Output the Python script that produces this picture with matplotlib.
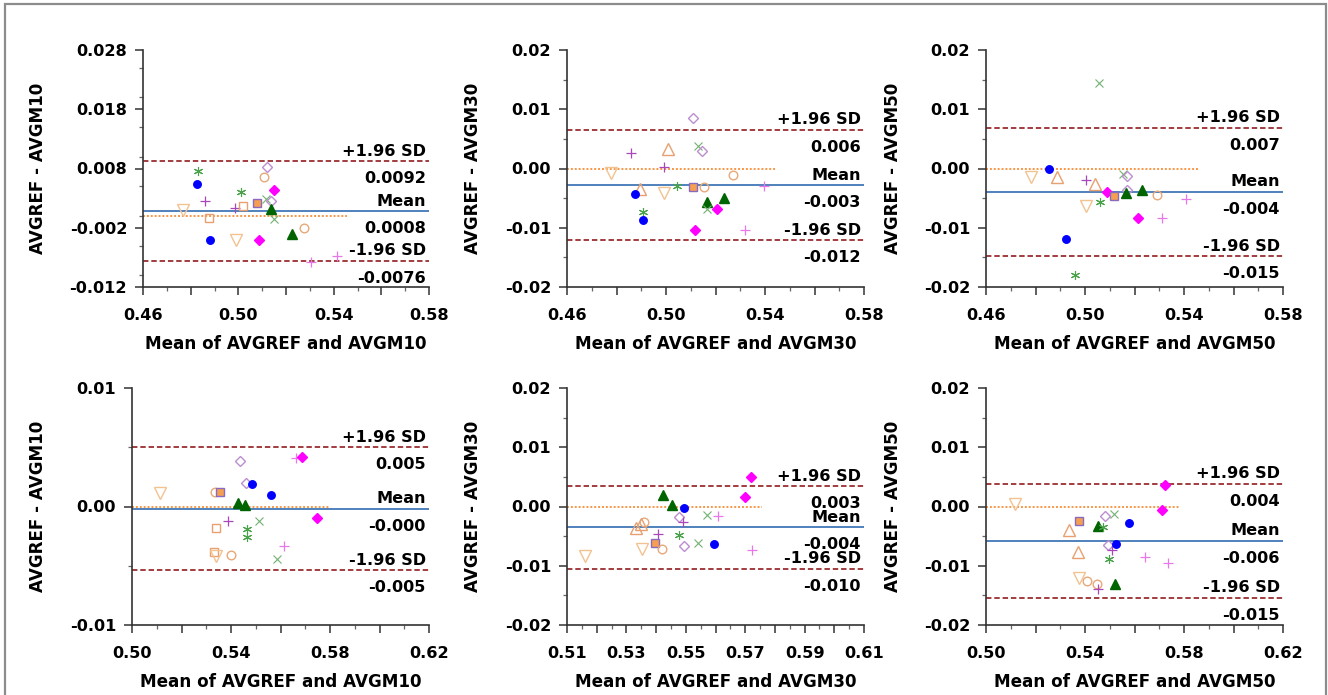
import matplotlib
matplotlib.use("Agg")
import matplotlib.pyplot as plt
from matplotlib.patches import Rectangle
from matplotlib.ticker import MultipleLocator, FixedLocator

plt.rcParams['font.family'] = ['DejaVu Sans']
plt.rcParams['font.weight'] = 'bold'

# ---------------- data ----------------
p1_x = [0.4831, 0.4825, 0.4860, 0.4767, 0.4877, 0.4880, 0.4985, 0.5020, 0.5012, 0.4992, 0.5079, 0.5086,
        0.5114, 0.5150, 0.5107, 0.5121, 0.5139, 0.5150, 0.5135, 0.5226, 0.5275, 0.5305, 0.5415]
p1_y = [0.0076, 0.0054, 0.0025, 0.0010, -0.0003, -0.0041, 0.0014, 0.0016, 0.0040, -0.0040, 0.0022, -0.0041,
        0.0028, -0.0005, 0.0066, 0.0082, 0.0025, 0.0043, 0.0012, -0.0031, -0.0021, -0.0078, -0.0067]
p1_k = ['ast', 'bo', 'pp', 'vt', 'sq', 'bo', 'pp', 'sq', 'ast', 'vt', 'fs', 'md',
        'gx', 'gx', 'oc', 'dm', 'dm', 'md', 'gt', 'gt', 'oc', 'pk', 'pk']

p2_x = [0.4859, 0.4777, 0.4896, 0.4874, 0.4906, 0.4906, 0.5010, 0.4992, 0.4992, 0.5046, 0.5108, 0.5117,
        0.5108, 0.5128, 0.5147, 0.5155, 0.5167, 0.5164, 0.5205, 0.5234, 0.5272, 0.5320, 0.5397]
p2_y = [0.0027, -0.0007, -0.0034, -0.0043, -0.0073, -0.0087, 0.0033, 0.0002, -0.0041, -0.0029, -0.0031, -0.0103,
        0.0086, 0.0038, 0.0030, -0.0032, -0.0056, -0.0069, -0.0069, -0.0049, -0.0011, -0.0103, -0.0030]
p2_k = ['pp', 'vt', 'ut', 'bo', 'ast', 'bo', 'ut', 'pp', 'vt', 'ast', 'fs', 'md',
        'dm', 'gx', 'dm', 'oc', 'gt', 'gx', 'md', 'gt', 'oc', 'pk', 'pk']

p3_x = [0.5056, 0.4854, 0.4782, 0.4885, 0.5004, 0.5040, 0.5154, 0.5169, 0.5169, 0.5087, 0.5117,
        0.5164, 0.5231, 0.5289, 0.5410, 0.5004, 0.5060, 0.5215, 0.5312, 0.4923, 0.4959]
p3_y = [0.0144, 0.0000, -0.0014, -0.0015, -0.0020, -0.0027, -0.0010, -0.0013, -0.0037, -0.0039, -0.0046,
        -0.0042, -0.0037, -0.0045, -0.0052, -0.0064, -0.0057, -0.0083, -0.0084, -0.0119, -0.0179]
p3_k = ['gx', 'bo', 'vt', 'ut', 'pp', 'ut', 'gx', 'dm', 'dm', 'md', 'fs',
        'gt', 'gt', 'oc', 'pk', 'vt', 'ast', 'md', 'pk', 'bo', 'ast']

p4_x = [0.5113, 0.5336, 0.5356, 0.5437, 0.5460, 0.5484, 0.5561, 0.5428, 0.5455, 0.5663, 0.5686,
        0.5747, 0.5387, 0.5515, 0.5340, 0.5464, 0.5464, 0.5330, 0.5340, 0.5402, 0.5616, 0.5585]
p4_y = [0.0011, 0.0012, 0.0012, 0.0038, 0.0020, 0.0019, 0.0010, 0.0003, 0.0001, 0.0041, 0.0042,
        -0.0010, -0.0012, -0.0012, -0.0018, -0.0019, -0.0026, -0.0038, -0.0042, -0.0041, -0.0033, -0.0044]
p4_k = ['vt', 'oc', 'fs', 'dm', 'dm', 'bo', 'bo', 'gt', 'gt', 'pk', 'md',
        'md', 'pp', 'gx', 'sq', 'ast', 'ast', 'sq', 'vt', 'oc', 'pk', 'gx']

p5_x = [0.5718, 0.5701, 0.5424, 0.5455, 0.5495, 0.5478, 0.5490, 0.5570, 0.5610, 0.5360, 0.5350,
        0.5333, 0.5405, 0.5476, 0.5395, 0.5352, 0.5419, 0.5494, 0.5542, 0.5596, 0.5724, 0.5162]
p5_y = [0.0049, 0.0016, 0.0019, 0.0002, -0.0002, -0.0017, -0.0027, -0.0015, -0.0016, -0.0027, -0.0029,
        -0.0037, -0.0046, -0.0048, -0.0061, -0.0071, -0.0072, -0.0067, -0.0062, -0.0064, -0.0074, -0.0084]
p5_k = ['md', 'md', 'gt', 'gt', 'bo', 'dm', 'pp', 'gx', 'pk', 'oc', 'ut',
        'ut', 'pp', 'ast', 'fs', 'vt', 'oc', 'dm', 'gx', 'bo', 'pk', 'vt']

p6_x = [0.5117, 0.5375, 0.5334, 0.5451, 0.5471, 0.5480, 0.5518, 0.5578, 0.5725, 0.5712, 0.5373,
        0.5491, 0.5510, 0.5525, 0.5495, 0.5644, 0.5736, 0.5377, 0.5409, 0.5448, 0.5453, 0.5523]
p6_y = [0.0005, -0.0024, -0.0039, -0.0033, -0.0034, -0.0016, -0.0013, -0.0028, 0.0037, -0.0006, -0.0076,
        -0.0065, -0.0074, -0.0063, -0.0089, -0.0085, -0.0095, -0.0120, -0.0125, -0.0130, -0.0140, -0.0131]
p6_k = ['vt', 'fs', 'ut', 'gt', 'ast', 'dm', 'gx', 'bo', 'md', 'md', 'ut',
        'dm', 'pp', 'bo', 'ast', 'pk', 'pk', 'vt', 'oc', 'oc', 'pp', 'gt']

# Bland-Altman statistics (mean, +1.96 SD, -1.96 SD) and their printed labels
mean_vals = [0.0008, -0.0028, -0.0039, -0.0002, -0.0035, -0.0058]
upper_vals = [0.0092, 0.0065, 0.0069, 0.0050, 0.0034, 0.0038]
lower_vals = [-0.0076, -0.0121, -0.0148, -0.0054, -0.0105, -0.0154]
mean_txt = ['0.0008', '-0.003', '-0.004', '-0.000', '-0.004', '-0.006']
upper_txt = ['0.0092', '0.006', '0.007', '0.005', '0.003', '0.004']
lower_txt = ['-0.0076', '-0.012', '-0.015', '-0.005', '-0.010', '-0.015']

ylabels = ['AVGREF - AVGM10', 'AVGREF - AVGM30', 'AVGREF - AVGM50',
           'AVGREF - AVGM10', 'AVGREF - AVGM30', 'AVGREF - AVGM50']
xlabels = ['Mean of AVGREF and AVGM10', 'Mean of AVGREF and AVGM30', 'Mean of AVGREF and AVGM50',
           'Mean of AVGREF and AVGM10', 'Mean of AVGREF and AVGM30', 'Mean of AVGREF and AVGM50']

# axis ticks / labels
top_xticks = [0.46, 0.48, 0.50, 0.52, 0.54, 0.56, 0.58]
top_xticklabels = ['0.46', '', '0.50', '', '0.54', '', '0.58']
bl_xticks = [0.50, 0.52, 0.54, 0.56, 0.58, 0.60, 0.62]
bl_xticklabels = ['0.50', '', '0.54', '', '0.58', '', '0.62']
bm_xticks = [0.51, 0.52, 0.53, 0.54, 0.55, 0.56, 0.57, 0.58, 0.59, 0.60, 0.61]
bm_xticklabels = ['0.51', '', '0.53', '', '0.55', '', '0.57', '', '0.59', '', '0.61']
p1_yticks = [-0.012, -0.002, 0.008, 0.018, 0.028]
p1_yticklabels = ['-0.012', '-0.002', '0.008', '0.018', '0.028']
std_yticks = [-0.02, -0.01, 0.00, 0.01, 0.02]
std_yticklabels = ['-0.02', '-0.01', '0.00', '0.01', '0.02']
p4_yticks = [-0.01, 0.00, 0.01]
p4_yticklabels = ['-0.01', '0.00', '0.01']

# ---------------- styles ----------------
STY = {
    'bo':  dict(marker='o', ms=5.4, mfc='#0000FF', mec='#0000FF', mew=1.0),
    'ast': dict(marker=(6, 2, 0), ms=6.5, mfc='none', mec='#4AA24A', mew=0.8),
    'pp':  dict(marker='+', ms=7.5, mfc='none', mec='#A848B8', mew=0.9),
    'pk':  dict(marker='+', ms=7.5, mfc='none', mec='#E878E8', mew=0.9),
    'vt':  dict(marker='v', ms=8.0, mfc='none', mec='#F2C290', mew=1.0),
    'sq':  dict(marker='s', ms=5.8, mfc='none', mec='#E8A070', mew=1.0),
    'fs':  dict(marker='s', ms=5.8, mfc='#F4A050', mec='#8A6AC0', mew=1.0),
    'gx':  dict(marker='x', ms=5.5, mfc='none', mec='#72B272', mew=0.8),
    'dm':  dict(marker='D', ms=5.0, mfc='none', mec='#BC8ED0', mew=1.0),
    'oc':  dict(marker='o', ms=6.2, mfc='none', mec='#E8A878', mew=1.0),
    'md':  dict(marker='D', ms=4.8, mfc='#FF00FF', mec='#FF00FF', mew=1.0),
    'gt':  dict(marker='^', ms=7.0, mfc='#006400', mec='#006400', mew=1.0),
    'ut':  dict(marker='^', ms=8.0, mfc='none', mec='#E8A070', mew=1.0),
}

W, H = 1328, 695
fig = plt.figure(figsize=(W / 100, H / 100), dpi=100)

# frame around the figure
fig.patches.append(Rectangle((5 / W, -0.02), (1326 - 5) / W, 1.02 - 4 / H,
                             transform=fig.transFigure, fill=False, edgecolor='#8C8C8C',
                             linewidth=1.6, zorder=0))

# axes pixel boxes: (left, top, right, bottom)
boxes = [(143, 50, 429, 287), (567, 50, 864, 287), (986, 50, 1283, 287),
         (132, 388, 429, 625), (567, 388, 864, 625), (986, 388, 1283, 625)]
ylabel_px = [38, 473, 893, 38, 473, 893]
zero_end = [0.5458, 0.5443, 0.5457, 0.5794, 0.5758, 0.5779]

panels = [(p1_x, p1_y, p1_k), (p2_x, p2_y, p2_k), (p3_x, p3_y, p3_k),
          (p4_x, p4_y, p4_k), (p5_x, p5_y, p5_k), (p6_x, p6_y, p6_k)]
xticks_all = [(top_xticks, top_xticklabels, 0.01)] * 3 + [(bl_xticks, bl_xticklabels, 0.01),
                                                          (bm_xticks, bm_xticklabels, 0.005),
                                                          (bl_xticks, bl_xticklabels, 0.01)]
yticks_all = [(p1_yticks, p1_yticklabels, 0.005), (std_yticks, std_yticklabels, 0.005),
              (std_yticks, std_yticklabels, 0.005), (p4_yticks, p4_yticklabels, 0.005),
              (std_yticks, std_yticklabels, 0.005), (std_yticks, std_yticklabels, 0.005)]

FS = 11.6
FS_LAB = 12.1
for i, (l, t, r, b) in enumerate(boxes):
    ax = fig.add_axes([l / W, 1 - b / H, (r - l) / W, (b - t) / H])
    xs, ys, ks = panels[i]
    xt, xtl, xminor = xticks_all[i]
    yt, ytl, yminor = yticks_all[i]
    ax.set_xlim(xt[0], xt[-1])
    ax.set_ylim(yt[0], yt[-1])

    # reference lines
    ax.plot([xt[0], zero_end[i]], [0, 0], ls=(0, (1, 1)), color='#F79646', lw=1.4, zorder=1)
    ax.axhline(mean_vals[i], color='#4F81BD', lw=1.4, zorder=1)
    ax.axhline(upper_vals[i], color='#9B2D30', lw=1.3, ls=(0, (3, 1.6)), zorder=1)
    ax.axhline(lower_vals[i], color='#9B2D30', lw=1.3, ls=(0, (3, 1.6)), zorder=1)

    for x, y, k in zip(xs, ys, ks):
        ax.plot([x], [y], ls='none', zorder=3, **STY[k])

    # labels on the right
    for val, above, below in [(upper_vals[i], '+1.96 SD', upper_txt[i]),
                              (mean_vals[i], 'Mean', mean_txt[i]),
                              (lower_vals[i], '-1.96 SD', lower_txt[i])]:
        ax.annotate(above, xy=(1, val), xycoords=('axes fraction', 'data'), xytext=(-2.4, 4.0),
                    textcoords='offset points', ha='right', va='baseline', fontsize=FS,
                    fontweight='bold', zorder=4)
        ax.annotate(below, xy=(1, val), xycoords=('axes fraction', 'data'), xytext=(-2.4, -15.8),
                    textcoords='offset points', ha='right', va='baseline', fontsize=FS,
                    fontweight='bold', zorder=4)

    ax.xaxis.set_major_locator(FixedLocator(xt))
    ax.set_xticklabels(xtl)
    ax.xaxis.set_minor_locator(MultipleLocator(xminor))
    ax.yaxis.set_major_locator(FixedLocator(yt))
    ax.set_yticklabels(ytl)
    ax.yaxis.set_minor_locator(MultipleLocator(yminor))

    for s in ['top', 'right']:
        ax.spines[s].set_visible(False)
    for s in ['left', 'bottom']:
        ax.spines[s].set_linewidth(1.2)
        ax.spines[s].set_color('#333333')
    ax.tick_params(axis='both', which='major', direction='out', length=6, width=1.1,
                   color='#333333', labelsize=FS)
    ax.tick_params(axis='both', which='minor', direction='out', length=3, width=0.9,
                   color='#666666')
    ax.tick_params(axis='x', which='major', pad=9)
    ax.tick_params(axis='y', which='major', pad=5.5)
    for lab in ax.get_xticklabels() + ax.get_yticklabels():
        lab.set_fontweight('bold')

    ax.set_xlabel(xlabels[i], fontsize=FS_LAB, fontweight='bold')
    ax.xaxis.set_label_coords(0.5, -57 / (b - t))
    ax.xaxis.label.set_va('center')
    ax.set_ylabel(ylabels[i], fontsize=FS_LAB, fontweight='bold')
    ax.yaxis.set_label_coords(-(l - ylabel_px[i]) / (r - l), 0.5)
    ax.yaxis.label.set_va('center')
    ax.patch.set_alpha(0)

fig.savefig('out.png', dpi=100, facecolor='white')
